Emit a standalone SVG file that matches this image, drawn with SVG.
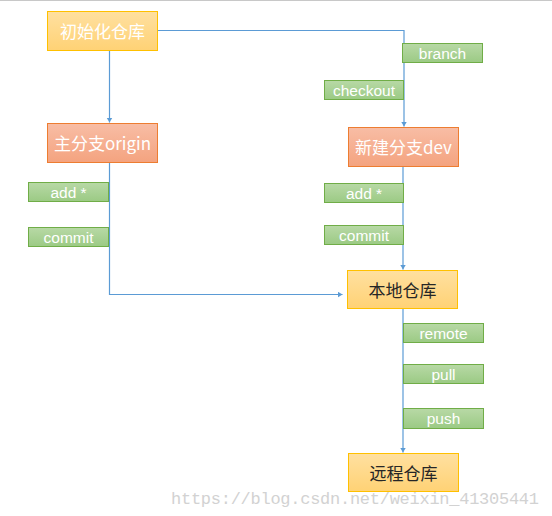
<svg xmlns="http://www.w3.org/2000/svg" width="552" height="516" viewBox="0 0 552 516">
<defs>
<linearGradient id="gy" x1="0" y1="0" x2="0" y2="1"><stop offset="0" stop-color="#FFE0A0"/><stop offset="1" stop-color="#FFD275"/></linearGradient>
<linearGradient id="gs" x1="0" y1="0" x2="0" y2="1"><stop offset="0" stop-color="#F8BDA5"/><stop offset="1" stop-color="#F4A37F"/></linearGradient>
<linearGradient id="gg" x1="0" y1="0" x2="0" y2="1"><stop offset="0" stop-color="#B8D9A6"/><stop offset="1" stop-color="#9BCA84"/></linearGradient>
<marker id="ar" markerUnits="userSpaceOnUse" markerWidth="8" markerHeight="8" refX="5" refY="3" orient="auto"><path d="M0,0 L5,3 L0,6 Z" fill="#5B9BD5"/></marker>
<style>
.y{fill:url(#gy);stroke:#FFC000;stroke-width:1}
.s{fill:url(#gs);stroke:#ED7D31;stroke-width:1}
.g{fill:url(#gg);stroke:#70AD47;stroke-width:1}
.t{font-family:"Noto Sans CJK SC","Liberation Sans",sans-serif;font-size:17px;text-anchor:middle;dominant-baseline:central}
.w{fill:#ffffff}
.d{fill:#262626}
.l{font-family:"Liberation Sans","Noto Sans",sans-serif;font-size:15.5px;fill:#ffffff;text-anchor:middle;dominant-baseline:central}
.c{fill:none;stroke:#5B9BD5;stroke-width:1.2}
</style>
</defs>
<rect x="0" y="0" width="552" height="516" fill="#ffffff"/>
<line x1="0" y1="0.5" x2="552" y2="0.5" stroke="#c8c8c8" stroke-width="1"/>
<g id="connectors">
<path class="c" d="M109.5 50.5 V122.5" marker-end="url(#ar)"/>
<path class="c" d="M157.5 30.5 H404 V126.5" marker-end="url(#ar)"/>
<path class="c" d="M109.5 162.5 V294.5 H342.5" marker-end="url(#ar)"/>
<path class="c" d="M403 166.5 V269.5" marker-end="url(#ar)"/>
<path class="c" d="M403 308.5 V452.5" marker-end="url(#ar)"/>
</g>
<g id="n1"><rect class="y" x="47.5" y="11.5" width="110" height="39"/><text class="t w" x="102.5" y="30.5">初始化仓库</text></g>
<g id="n2"><rect class="s" x="47.5" y="123.5" width="110" height="39"/><text class="t w" x="102.5" y="142.5">主分支origin</text></g>
<g id="n3"><rect class="s" x="348.5" y="127.5" width="110" height="39"/><text class="t w" x="403.5" y="146.5">新建分支dev</text></g>
<g id="n4"><rect class="y" x="347.5" y="270.5" width="110" height="38"/><text class="t d" x="402.5" y="289">本地仓库</text></g>
<g id="n5"><rect class="y" x="348.5" y="453.5" width="110" height="38"/><text class="t d" x="403.5" y="472">远程仓库</text></g>
<g id="lbl-branch"><rect class="g" x="402.5" y="43.5" width="80" height="19"/><text class="l" x="442.5" y="53">branch</text></g>
<g id="lbl-checkout"><rect class="g" x="324.5" y="80.5" width="79" height="19"/><text class="l" x="364" y="90">checkout</text></g>
<g id="lbl-add-left"><rect class="g" x="28.5" y="182.5" width="80" height="19"/><text class="l" x="68.5" y="192">add *</text></g>
<g id="lbl-commit-left"><rect class="g" x="28.5" y="227.5" width="80" height="19"/><text class="l" x="68.5" y="237">commit</text></g>
<g id="lbl-add-right"><rect class="g" x="324.5" y="183.5" width="79" height="19"/><text class="l" x="364" y="193">add *</text></g>
<g id="lbl-commit-right"><rect class="g" x="324.5" y="225.5" width="79" height="19"/><text class="l" x="364" y="235">commit</text></g>
<g id="lbl-remote"><rect class="g" x="403.5" y="323.5" width="80" height="19"/><text class="l" x="443.5" y="333">remote</text></g>
<g id="lbl-pull"><rect class="g" x="403.5" y="364.5" width="80" height="19"/><text class="l" x="443.5" y="374">pull</text></g>
<g id="lbl-push"><rect class="g" x="403.5" y="408.5" width="80" height="20"/><text class="l" x="443.5" y="418.5">push</text></g>
<text x="171" y="504" font-family="Liberation Mono, monospace" font-size="17" fill="#d2d2d2" textLength="368">https://blog.csdn.net/weixin_41305441</text>
</svg>
